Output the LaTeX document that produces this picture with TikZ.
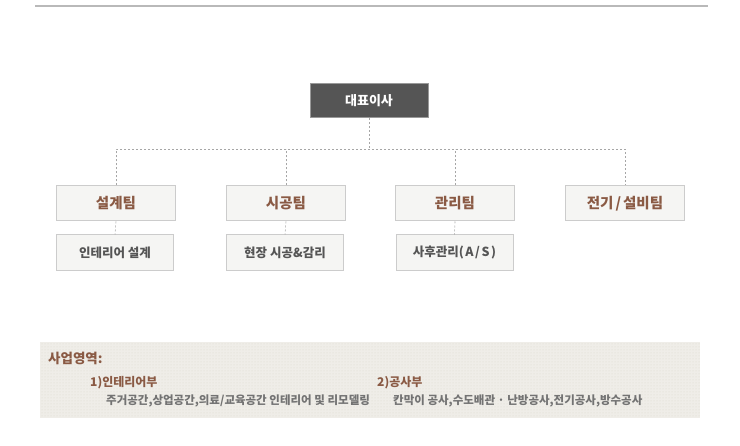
\documentclass[tikz,border=0pt]{standalone}
\usepackage{fontspec}
\setmainfont{Noto Sans CJK KR}
\usetikzlibrary{patterns}
\definecolor{boss}{HTML}{555555}
\definecolor{teambg}{HTML}{F5F5F3}
\definecolor{teamline}{HTML}{CCCCCC}
\definecolor{brownish}{HTML}{8A5A44}
\definecolor{subtext}{HTML}{555555}
\definecolor{panelbg}{HTML}{EFEDE8}
\definecolor{paneldot}{HTML}{DDD8CE}

\begin{document}
\begin{tikzpicture}[x=1pt, y=-1pt]
	\tikzstyle{team} = [draw=teamline, fill=teambg, line width=1pt, minimum width=119pt, minimum height=35pt, inner sep=0pt, font=\bfseries\fontsize{14.5}{17}\selectfont, text=brownish]
	\tikzstyle{sub} = [draw=teamline, fill=teambg, line width=1pt, minimum width=117pt, minimum height=36pt, inner sep=0pt, font=\bfseries\fontsize{12.5}{14}\selectfont, text=subtext]
	\tikzstyle{link} = [draw=gray!70, dashed, dash pattern=on 2pt off 2pt, line width=0.6pt]
	\tikzstyle{note} = [anchor=west, inner sep=0pt]
	\useasboundingbox (0,0) rectangle (740,446);
	\draw [gray!55, line width=1.5pt] (35,6) -- (708,6);
	\node [draw=gray!80, fill=boss, line width=1pt, minimum width=118pt, minimum height=34pt, inner sep=0pt, text=white, font=\bfseries\fontsize{13}{15}\selectfont] (ceo) at (369,101) {대표이사};
	\node [team] (design) at (116,203.5) {설계팀};
	\node [team] (build) at (286,203.5) {시공팀};
	\node [team] (manage) at (455,203.5) {관리팀};
	\node [team] (elec) at (625,203.5) {전기\kern2pt/\kern2pt 설비팀};
	\node [sub] (interior) at (115,253) {인테리어 설계};
	\node [sub] (site) at (285,253) {현장 시공\&감리};
	\node [sub] (after) at (454.5,253) {사후관리(\kern1.5pt A\kern1.5pt/\kern1.5pt S\kern1.5pt)};
	\coordinate (bus) at (369,150);
	\draw [link] (ceo.south) -- (bus);
	\draw [link] (design.north) -- ++(0,-36) -| (elec.north);
	\draw [link] (build.north) -- ++(0,-36);
	\draw [link] (manage.north) -- ++(0,-36);
	\draw [link] (design.south) -- (interior.north);
	\draw [link] (build.south) -- (site.north);
	\draw [link] (manage.south) -- (after.north);
	\fill [panelbg] (40,342) rectangle (700,418);
	\fill [pattern=dots, pattern color=paneldot] (40,342) rectangle (700,418);
	\node [note, text=brownish, font=\bfseries\fontsize{13.5}{15}\selectfont] (area) at (48,358) {사업영역:};
	\node [note, text=brownish, font=\bfseries\fontsize{12}{14}\selectfont] (intdept) at (90,383) {1)인테리어부};
	\node [note, text=gray!90!black, font=\bfseries\fontsize{11.5}{13}\selectfont] (intwork) at (106,401) {주거공간,상업공간,의료/교육공간 인테리어 및 리모델링};
	\node [note, text=brownish, font=\bfseries\fontsize{12}{14}\selectfont] (condept) at (377,383) {2)공사부};
	\node [note, text=gray!90!black, font=\bfseries\fontsize{11.5}{13}\selectfont] (conwork) at (393,401) {칸막이 공사,수도배관 · 난방공사,전기공사,방수공사};
\end{tikzpicture}
\end{document}
